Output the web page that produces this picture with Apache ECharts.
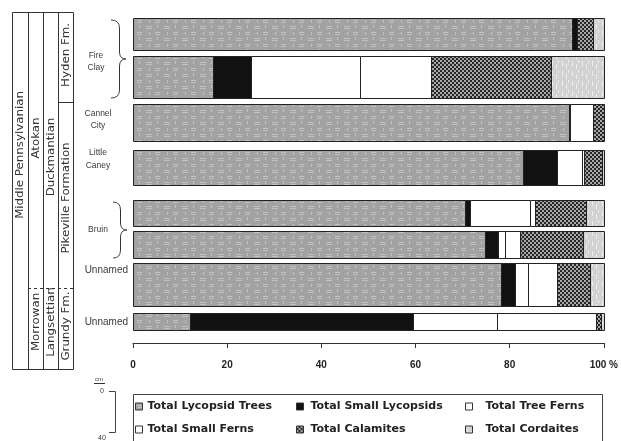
<!DOCTYPE html>
<html>
<head>
<meta charset="utf-8">
<script src="https://cdn.jsdelivr.net/npm/echarts@6/dist/echarts.min.js"></script>
<style>
  html, body { margin: 0; padding: 0; background: #fff; }
  #chart { width: 621px; height: 441px; }
</style>
</head>
<body>
<div id="chart"></div>
<script>
// Sampled horizons, top (youngest) to bottom (oldest)
const rows = ['Fire Clay (upper)', 'Fire Clay (lower)', 'Cannel City', 'Little Caney',
              'Bruin (upper)', 'Bruin (lower)', 'Unnamed', 'Unnamed (Grundy)'];

// Percent of each plant group per horizon
const lycopsidTrees  = [93.2, 17.0, 92.5, 82.9, 70.5, 74.7, 78.1, 12.1];
const smallLycopsids = [1.2, 8.0, 0.3, 7.1, 1.0, 2.9, 3.0, 47.4];
const treeFerns      = [0, 23.2, 5.0, 5.3, 12.8, 1.4, 2.8, 17.9];
const smallFerns     = [0, 15.1, 0, 0.5, 1.0, 3.2, 6.1, 21.0];
const calamites      = [3.3, 25.4, 2.2, 3.9, 11.0, 13.4, 7.0, 1.0];
const cordaites      = [2.3, 11.3, 0, 0.3, 3.7, 4.4, 3.0, 0.6];

const groupNames = ['Total Lycopsid Trees', 'Total Small Lycopsids', 'Total Tree Ferns',
                    'Total Small Ferns', 'Total Calamites', 'Total Cordaites'];
const groupValues = [lycopsidTrees, smallLycopsids, treeFerns, smallFerns, calamites, cordaites];

// Bar placement inside each category band (fraction of band height)
const rowShift     = [0.015, 0.056, 0.16, 0.245, 0.35, 0.11, 0.082, -0.017];
const rowThickness = [0.77, 1.025, 0.897, 0.85, 0.63, 0.67, 1.03, 0.405];

// ---- fill patterns -------------------------------------------------------
function makeTile(w, h, draw) {
  const c = document.createElement('canvas');
  c.width = w; c.height = h;
  draw(c.getContext('2d'));
  return { image: c, repeat: 'repeat' };
}
const lycopsidFill = makeTile(18, 12, g => {
  g.fillStyle = '#a2a2a2'; g.fillRect(0, 0, 18, 12);
  g.fillStyle = '#c2c2c2';
  g.fillRect(2, 2, 6, 1); g.fillRect(2, 4, 6, 1);
  g.fillRect(11, 8, 5, 1); g.fillRect(11, 10, 5, 1);
  g.fillRect(13, 1, 1, 3); g.fillRect(5, 8, 1, 3);
});
const calamitesFill = makeTile(4, 4, g => {
  g.fillStyle = '#262626'; g.fillRect(0, 0, 4, 4);
  g.fillStyle = '#a8a8a8'; g.fillRect(0, 0, 2, 2); g.fillRect(2, 2, 2, 2);
});
const cordaitesFill = makeTile(10, 10, g => {
  g.fillStyle = '#d2d2d2'; g.fillRect(0, 0, 10, 10);
  g.fillStyle = '#ededed';
  g.fillRect(2, 1, 1, 5); g.fillRect(6, 4, 1, 5); g.fillRect(8, 0, 1, 3);
});
const groupFills = [lycopsidFill, '#111111', '#ffffff', '#ffffff', calamitesFill, cordaitesFill];

// cumulative extents of every segment
const cumulative = rows.map(() => 0);
const series = groupNames.map((name, k) => {
  const data = [];
  rows.forEach((r, i) => {
    const v = groupValues[k][i];
    const start = cumulative[i];
    cumulative[i] += v;
    if (v > 0) data.push([i, start, start + v]);
  });
  return {
    type: 'custom',
    name: name,
    itemStyle: { color: groupFills[k], borderColor: '#222', borderWidth: 1 },
    encode: { x: [1, 2], y: 0 },
    renderItem: function (params, api) {
      const row = api.value(0);
      const band = api.size([0, 1])[1];
      const a = api.coord([api.value(1), row]);
      const b = api.coord([api.value(2), row]);
      const h = band * rowThickness[row];
      const yc = a[1] + band * rowShift[row];
      const x0 = Math.round(a[0]) + 0.5, x1 = Math.round(b[0]) + 0.5;
      const y0 = Math.round(yc - h / 2) + 0.5, y1 = Math.round(yc + h / 2) + 0.5;
      return {
        type: 'rect',
        shape: { x: x0, y: y0, width: x1 - x0, height: y1 - y0 },
        style: { fill: groupFills[params.seriesIndex], stroke: '#222', lineWidth: 1 }
      };
    },
    data: data
  };
});

// ---- annotations ---------------------------------------------------------
const ink = '#333';
const colFont = '10px "DejaVu Sans", sans-serif';
function vText(text, x, y) {
  return { type: 'text', x: x, y: y, rotation: Math.PI / 2, scaleX: 1.18,
    style: { text: text, font: colFont, fill: ink, align: 'center', verticalAlign: 'middle' } };
}
function hText(text, x, y, size, align) {
  return { type: 'text', x: x, y: y,
    style: { text: text, font: size + 'px "Liberation Sans", Arial, sans-serif', fill: '#3a3a3a',
             align: align || 'center', verticalAlign: 'middle' } };
}
function line(x1, y1, x2, y2, dash) {
  return { type: 'line', shape: { x1: x1, y1: y1, x2: x2, y2: y2 },
    style: { stroke: ink, lineWidth: 1, lineDash: dash || null } };
}
function curve(x1, y1, cx, cy, x2, y2) {
  return { type: 'bezierCurve', shape: { x1: x1, y1: y1, cpx1: cx, cpy1: cy, x2: x2, y2: y2 },
    style: { fill: 'none', stroke: '#444', lineWidth: 1 } };
}
// curly brace opening to the left, tip pointing right at (tipX, mid)
function brace(xEnd, xBar, tipX, top, mid, bottom) {
  return [
    curve(xEnd, top, xBar, top, xBar, top + 8),
    line(xBar, top + 8, xBar, mid - 7),
    curve(xBar, mid - 7, xBar, mid, tipX, mid),
    curve(tipX, mid, xBar, mid, xBar, mid + 7),
    line(xBar, mid + 7, xBar, bottom - 8),
    curve(xBar, bottom - 8, xBar, bottom, xEnd, bottom)
  ];
}

const graphics = [
  // stratigraphic column frame
  { type: 'rect', shape: { x: 12.5, y: 12.5, width: 61, height: 357 },
    style: { fill: 'none', stroke: ink, lineWidth: 1 } },
  line(28.5, 12, 28.5, 370), line(43.5, 12, 43.5, 370), line(58.5, 12, 58.5, 370),
  line(58, 102.5, 74, 102.5),
  line(28, 288.5, 74, 288.5, [3, 3]),
  vText('Middle Pennsylvanian', 20.5, 155),
  vText('Atokan', 36, 138),
  vText('Morrowan', 36, 322),
  vText('Duckmantian', 51, 157),
  vText('Langsettian', 51, 322),
  vText('Hyden Fm.', 66, 55),
  vText('Pikeville Formation', 66, 198),
  vText('Grundy Fm.', 66, 326),

  // horizon names
  hText('Fire', 96, 56, 8.5), hText('Clay', 96, 68, 8.5),
  hText('Cannel', 98, 114, 8.5), hText('City', 98, 126, 8.5),
  hText('Little', 98, 153, 8.5), hText('Caney', 98, 166, 8.5),
  hText('Bruin', 98, 230, 8.5),
  hText('Unnamed', 128, 270, 10, 'right'),
  hText('Unnamed', 128, 322, 10, 'right'),

  // braces grouping paired samples
  ...brace(111, 119.5, 126, 20, 59, 98),
  ...brace(113, 120.5, 127, 202, 230, 258),

  // legend frame
  { type: 'rect', shape: { x: 133.5, y: 394.5, width: 469, height: 60 },
    style: { fill: 'none', stroke: '#444', lineWidth: 1 } },

  // thickness scale
  hText('cm', 99, 379, 6),
  line(94, 383.5, 105, 383.5),
  hText('0', 102, 391, 7),
  { type: 'polyline', shape: { points: [[109, 391.5], [115.5, 391.5], [115.5, 432.5], [109, 432.5]] },
    style: { fill: 'none', stroke: '#444', lineWidth: 1 } },
  hText('40', 102, 438, 7)
];

function legendCol(names, left, pad) {
  return {
    data: names, orient: 'vertical', left: left, top: 400, padding: 0,
    itemWidth: 7, itemHeight: 7, itemGap: 10, icon: 'rect',
    itemStyle: { borderColor: '#333', borderWidth: 1 },
    textStyle: { fontFamily: 'DejaVu Sans', fontWeight: 'bold', fontSize: 11, color: '#222',
                 lineHeight: 13, padding: [0, 0, 0, pad] },
    selectedMode: false
  };
}

const chart = echarts.init(document.getElementById('chart'), null, { renderer: 'canvas' });
chart.setOption({
  animation: false,
  backgroundColor: '#fff',
  grid: { left: 133, right: 16, top: 13, bottom: 98, containLabel: false },
  xAxis: {
    type: 'value', min: 0, max: 100, interval: 20,
    splitLine: { show: false },
    axisLine: { show: true, lineStyle: { color: '#333', width: 1 } },
    axisTick: { show: true, length: 5, lineStyle: { color: '#333' } },
    axisLabel: {
      margin: 17, color: '#222', fontWeight: 'bold', fontSize: 10,
      fontFamily: '"Liberation Sans", Arial, sans-serif',
      formatter: v => (v === 100 ? '100 %' : String(v))
    }
  },
  yAxis: { type: 'category', data: rows, inverse: true, show: false },
  legend: [
    legendCol(['Total Lycopsid Trees', 'Total Small Ferns'], 135, 0),
    legendCol(['Total Small Lycopsids', 'Total Calamites'], 296, 2),
    legendCol(['Total Tree Ferns', 'Total Cordaites'], 465, 8)
  ],
  graphic: graphics,
  series: series
});
</script>
</body>
</html>
